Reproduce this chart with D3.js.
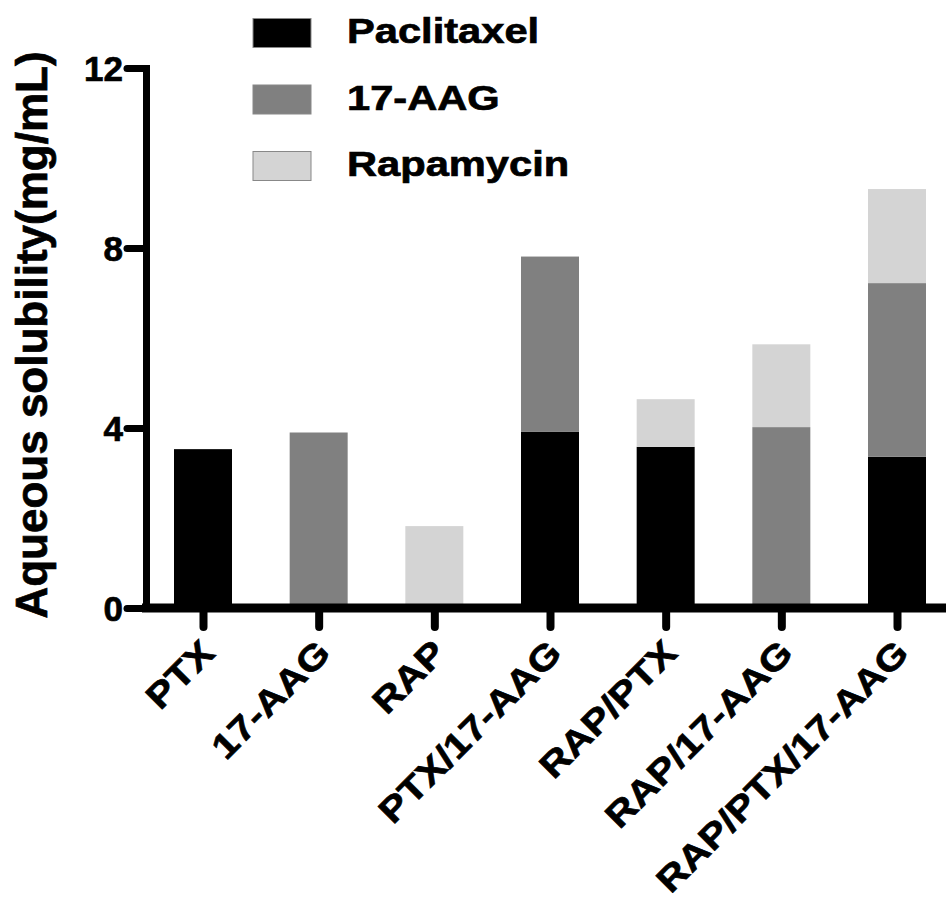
<!DOCTYPE html>
<html>
<head>
<meta charset="utf-8">
<script src="https://cdn.jsdelivr.net/npm/d3@7"></script>
<style>
body { margin: 0; background: #fff; }
text { font-family: "Liberation Sans", Arial, Helvetica, sans-serif; font-weight: bold; fill: #000; stroke: #000; stroke-width: 0.7px; }
</style>
</head>
<body>
<script>
// data
var categories = ["PTX", "17-AAG", "RAP", "PTX/17-AAG", "RAP/PTX", "RAP/17-AAG", "RAP/PTX/17-AAG"];
var seriesNames = ["Paclitaxel", "17-AAG", "Rapamycin"];
var paclitaxel = [3.53, 0, 0, 3.92, 3.58, 0, 3.36];
var aag17 = [0, 3.90, 0, 3.89, 0, 4.02, 3.86];
var rapamycin = [0, 0, 1.82, 0, 1.06, 1.84, 2.09];
var yTicks = [0, 4, 8, 12];
var colors = ["#000000", "#808080", "#d4d4d4"];

var width = 950, height = 901;

var svg = d3.select("body").append("svg")
	.attr("width", width)
	.attr("height", height);

// build rows for d3.stack
var rows = categories.map(function (c, i) {
	return { cat: c, "Paclitaxel": paclitaxel[i], "17-AAG": aag17[i], "Rapamycin": rapamycin[i] };
});
var stacked = d3.stack().keys(seriesNames)(rows);

var x = d3.scalePoint().domain(categories).range([203, 897]);
var y = d3.scaleLinear().domain([0, 12]).range([608, 68]);
var color = d3.scaleOrdinal().domain(seriesNames).range(colors);
var barW = 58;

// bars
svg.append("g").selectAll("g")
	.data(stacked)
	.enter().append("g")
	.attr("fill", function (d) { return color(d.key); })
	.selectAll("rect")
	.data(function (d) { return d; })
	.enter().append("rect")
	.attr("x", function (d) { return x(d.data.cat) - barW / 2; })
	.attr("y", function (d) { return y(d[1]); })
	.attr("width", barW)
	.attr("height", function (d) { return y(d[0]) - y(d[1]); });

// y axis
var yAxis = svg.append("g")
	.attr("transform", "translate(146,0)")
	.call(d3.axisLeft(y).tickValues(yTicks).tickSize(19).tickSizeOuter(0).tickPadding(4));
yAxis.select(".domain").attr("stroke-width", 7).attr("stroke-linecap", "square");
yAxis.selectAll(".tick line").attr("stroke-width", 7).attr("stroke-linecap", "round");
yAxis.selectAll(".tick text")
	.style("font-size", "35px")
	.attr("dy", "0.36em");

// x axis
var xAxis = svg.append("g")
	.attr("transform", "translate(0,608)")
	.call(d3.axisBottom(x).tickSize(19).tickSizeOuter(0));
xAxis.select(".domain").attr("d", "M142,0H946").attr("stroke-width", 9);
xAxis.selectAll(".tick line").attr("stroke-width", 8).attr("stroke-linecap", "round");
xAxis.selectAll(".tick text")
	.style("font-size", "35px")
	.attr("text-anchor", "end")
	.attr("x", 0).attr("y", 0).attr("dy", 0)
	.attr("transform", "translate(13,47) rotate(-45) scale(1.17,1)");

// axis title
svg.append("text")
	.attr("transform", "translate(47,335) rotate(-90)")
	.attr("text-anchor", "middle")
	.style("font-size", "44px")
	.text("Aqueous solubility(mg/mL)");

// legend
var ly = d3.scalePoint().domain(seriesNames).range([33, 166]);
var legend = svg.append("g").selectAll("g")
	.data(seriesNames)
	.enter().append("g")
	.attr("transform", function (d) { return "translate(253," + ly(d) + ")"; });
legend.append("rect")
	.attr("x", 0).attr("y", -14.5)
	.attr("width", 58).attr("height", 29)
	.attr("fill", function (d) { return color(d); })
	.attr("stroke", "#888").attr("stroke-width", 1);
legend.append("text")
	.attr("transform", "translate(94,10) scale(1.19,1)")
	.style("font-size", "35px")
	.text(function (d) { return d; });
</script>
</body>
</html>
